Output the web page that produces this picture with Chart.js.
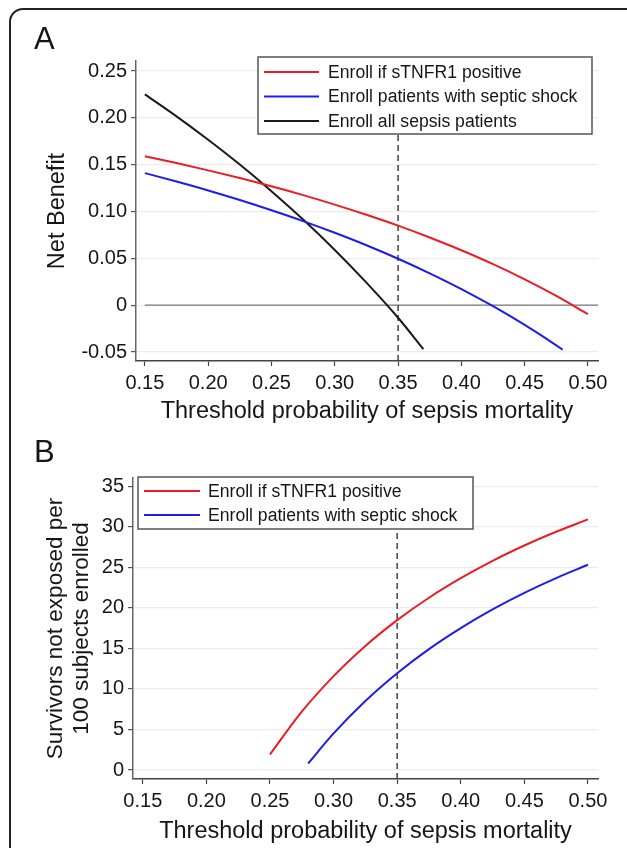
<!DOCTYPE html>
<html><head><meta charset="utf-8">
<script src="https://cdn.jsdelivr.net/npm/chart.js@4"></script>
<style>
html,body{margin:0;padding:0;background:#fff;overflow:hidden;width:627px;height:848px;position:relative;}
#frame{position:absolute;left:9px;top:8px;width:720px;height:900px;border:2px solid #222;border-top-left-radius:14px;box-sizing:border-box;}
canvas{position:absolute;left:0;width:627px;height:424px;}
#cA{top:0}
#cB{top:424px}
</style></head><body>
<div id="frame"></div>
<canvas id="cA" width="627" height="424"></canvas>
<canvas id="cB" width="627" height="424"></canvas>
<script>
// ---------- data ----------
const seriesLabels = ['Enroll if sTNFR1 positive', 'Enroll patients with septic shock', 'Enroll all sepsis patients'];
const cutoff = 0.35;

const xTicks = [0.15, 0.20, 0.25, 0.30, 0.35, 0.40, 0.45, 0.50];
const xTickLabels = ['0.15', '0.20', '0.25', '0.30', '0.35', '0.40', '0.45', '0.50'];

// Panel A: net benefit
const yTicksA = [-0.05, 0, 0.05, 0.10, 0.15, 0.20, 0.25];
const yTickLabelsA = ['-0.05', '0', '0.05', '0.10', '0.15', '0.20', '0.25'];
const xRedA = [0.15, 0.175, 0.20, 0.225, 0.25, 0.275, 0.30, 0.325, 0.35, 0.375, 0.40, 0.425, 0.45, 0.475, 0.50];
const redA = [0.159, 0.1517, 0.1439, 0.1357, 0.1269, 0.1175, 0.1074, 0.0965, 0.0849, 0.0723, 0.0586, 0.0438, 0.0276, 0.0099, -0.0096];
const xBlueA = [0.15, 0.175, 0.20, 0.225, 0.25, 0.275, 0.30, 0.325, 0.35, 0.375, 0.40, 0.425, 0.45, 0.475, 0.48];
const blueA = [0.141, 0.132, 0.1225, 0.1123, 0.1014, 0.0898, 0.0773, 0.064, 0.0496, 0.034, 0.0172, -0.0011, -0.0211, -0.0429, -0.0476];
const xBlackA = [0.15, 0.175, 0.20, 0.225, 0.25, 0.275, 0.30, 0.325, 0.35, 0.37];
const blackA = [0.2251, 0.2016, 0.1766, 0.1501, 0.1217, 0.0914, 0.0590, 0.0241, -0.0134, -0.0470];

// Panel B: survivors not exposed per 100 enrolled
const yTicksB = [0, 5, 10, 15, 20, 25, 30, 35];
const yTickLabelsB = ['0', '5', '10', '15', '20', '25', '30', '35'];
const xRedB = [0.25, 0.275, 0.30, 0.325, 0.35, 0.375, 0.40, 0.425, 0.45, 0.475, 0.50];
const redB = [1.92, 7.19, 11.58, 15.30, 18.48, 21.24, 23.65, 25.79, 27.68, 29.37, 30.90];
const xBlueB = [0.28, 0.30, 0.325, 0.35, 0.375, 0.40, 0.425, 0.45, 0.475, 0.50];
const blueB = [0.80, 4.51, 8.51, 11.94, 14.91, 17.50, 19.80, 21.84, 23.66, 25.30];

// axis ranges
const xMinA = 0.143, xMinB = 0.1423, xMax = 0.5079;
const yMinA = -0.0596, yMaxA = 0.2607;
const yMinB = -1.11, yMaxB = 36.0;

// ---------- style ----------
const FONT = '"Liberation Sans", Arial, Helvetica, sans-serif';
const RED = 'rgb(236,28,36)', BLUE = 'rgb(28,28,235)', BLACK = '#1a1a1a';
const TXT = '#161616';

const pts = (xs, ys) => xs.map((x, i) => ({x: x, y: ys[i]}));

const panelLabel = {
  id: 'panelLabel',
  afterDraw(chart, args, o) {
    const ctx = chart.ctx;
    ctx.save();
    ctx.font = '31px ' + FONT;
    ctx.fillStyle = TXT;
    ctx.textBaseline = 'alphabetic';
    ctx.textAlign = 'left';
    ctx.fillText(o.text, o.x, o.y);
    ctx.restore();
  }
};

const boxLegend = {
  id: 'boxLegend',
  afterDatasetsDraw(chart, args, o) {
    const ctx = chart.ctx;
    const items = chart.data.datasets.filter(d => d.inLegend);
    ctx.save();
    ctx.fillStyle = '#fff';
    ctx.fillRect(o.left, o.top, o.right - o.left, o.bottom - o.top);
    ctx.strokeStyle = '#555';
    ctx.lineWidth = 1.5;
    ctx.strokeRect(o.left, o.top, o.right - o.left, o.bottom - o.top);
    ctx.font = o.fontSize + 'px ' + FONT;
    ctx.textBaseline = 'middle';
    ctx.textAlign = 'left';
    items.forEach((d, i) => {
      const y = o.row0 + i * o.rowGap;
      ctx.strokeStyle = d.borderColor;
      ctx.lineWidth = 2;
      ctx.beginPath();
      ctx.moveTo(o.s0, y);
      ctx.lineTo(o.s1, y);
      ctx.stroke();
      ctx.fillStyle = TXT;
      ctx.fillText(d.label, o.textX, y + 1);
    });
    ctx.restore();
  }
};

function lineDs(label, data, color) {
  return {label: label, data: data, borderColor: color, borderWidth: 2, pointRadius: 0,
          cubicInterpolationMode: 'monotone', fill: false, inLegend: true, order: 0};
}

function makeChart(id, cfg) {
  return new Chart(document.getElementById(id), {
    type: 'line',
    data: {datasets: cfg.datasets},
    options: {
      responsive: false, animation: false, devicePixelRatio: 1,
      layout: {padding: {left: 0, top: cfg.padTop, right: 29, bottom: 0}},
      plugins: {
        legend: {display: false}, tooltip: {enabled: false},
        panelLabel: cfg.label,
        boxLegend: cfg.legend
      },
      scales: {
        x: {
          type: 'linear', min: cfg.xMin, max: xMax,
          afterBuildTicks: s => { s.ticks = xTicks.map(v => ({value: v})); },
          afterFit: s => { s.height = cfg.xHeight; },
          ticks: {callback: (v, i) => xTickLabels[i], font: {family: FONT, size: 20, lineHeight: 1},
                  color: TXT, padding: 7, maxRotation: 0, autoSkip: false},
          grid: {drawOnChartArea: false, drawTicks: true, tickLength: 5, tickColor: '#444', tickWidth: 1.2},
          border: {display: true, color: '#444', width: 1.5},
          title: {display: true, text: 'Threshold probability of sepsis mortality',
                  font: {family: FONT, size: 23.5, lineHeight: 1}, color: TXT,
                  padding: {top: 0, bottom: cfg.xTitlePad}}
        },
        y: {
          type: 'linear', min: cfg.yMin, max: cfg.yMax,
          afterBuildTicks: s => { s.ticks = cfg.yTicks.map(v => ({value: v})); },
          afterFit: s => { s.width = cfg.yWidth; },
          ticks: {callback: (v, i) => cfg.yTickLabels[i], font: {family: FONT, size: 20, lineHeight: 1},
                  color: TXT, padding: 4, autoSkip: false},
          grid: {color: '#ececec', lineWidth: 1.2, drawTicks: true, tickLength: 5, tickColor: '#555', tickWidth: 1.2},
          border: {display: true, color: '#666', width: 1.5},
          title: {display: true, text: cfg.yTitle,
                  font: {family: FONT, size: cfg.yTitleSize, lineHeight: cfg.yTitleLH}, color: TXT,
                  padding: {top: cfg.yTitlePad, bottom: 0}}
        }
      }
    },
    plugins: [panelLabel, boxLegend]
  });
}

// Panel A
makeChart('cA', {
  datasets: [
    lineDs(seriesLabels[0], pts(xRedA, redA), RED),
    lineDs(seriesLabels[1], pts(xBlueA, blueA), BLUE),
    lineDs(seriesLabels[2], pts(xBlackA, blackA), BLACK),
    {label: 'zero', data: [{x: xTicks[0], y: 0}, {x: xMax, y: 0}], borderColor: '#777', borderWidth: 1.2,
     pointRadius: 0, order: 2},
    {label: 'cutoff', data: [{x: cutoff, y: yMinA}, {x: cutoff, y: yMaxA}], borderColor: '#444', borderWidth: 1.5,
     borderDash: [6, 4], pointRadius: 0, order: 1}
  ],
  padTop: 61, xHeight: 63, xTitlePad: 0.25, yWidth: 136, xMin: xMinA,
  yMin: yMinA, yMax: yMaxA, yTicks: yTicksA, yTickLabels: yTickLabelsA,
  yTitle: 'Net Benefit', yTitleSize: 23.5, yTitleLH: 1, yTitlePad: 46.25,
  label: {text: 'A', x: 34, y: 49},
  legend: {left: 258, top: 57, right: 592, bottom: 134, row0: 72, rowGap: 24.5, s0: 264, s1: 319, textX: 328, fontSize: 17.6}
});

// Panel B
makeChart('cB', {
  datasets: [
    lineDs(seriesLabels[0], pts(xRedB, redB), RED),
    lineDs(seriesLabels[1], pts(xBlueB, blueB), BLUE),
    {label: 'cutoff', data: [{x: cutoff, y: yMinB}, {x: cutoff, y: yMaxB}], borderColor: '#444', borderWidth: 1.5,
     borderDash: [6, 4], pointRadius: 0, order: 1}
  ],
  padTop: 54, xHeight: 69, xTitlePad: 4.25, yWidth: 133, xMin: xMinB,
  yMin: yMinB, yMax: yMaxB, yTicks: yTicksB, yTickLabels: yTickLabelsB,
  yTitle: ['Survivors not exposed per', '100 subjects enrolled'], yTitleSize: 22.5, yTitleLH: 26 / 22.5, yTitlePad: 43,
  label: {text: 'B', x: 34, y: 38},
  legend: {left: 138, top: 53, right: 473, bottom: 105, row0: 67, rowGap: 24, s0: 144, s1: 200, textX: 208, fontSize: 17.6}
});
</script>
</body></html>
